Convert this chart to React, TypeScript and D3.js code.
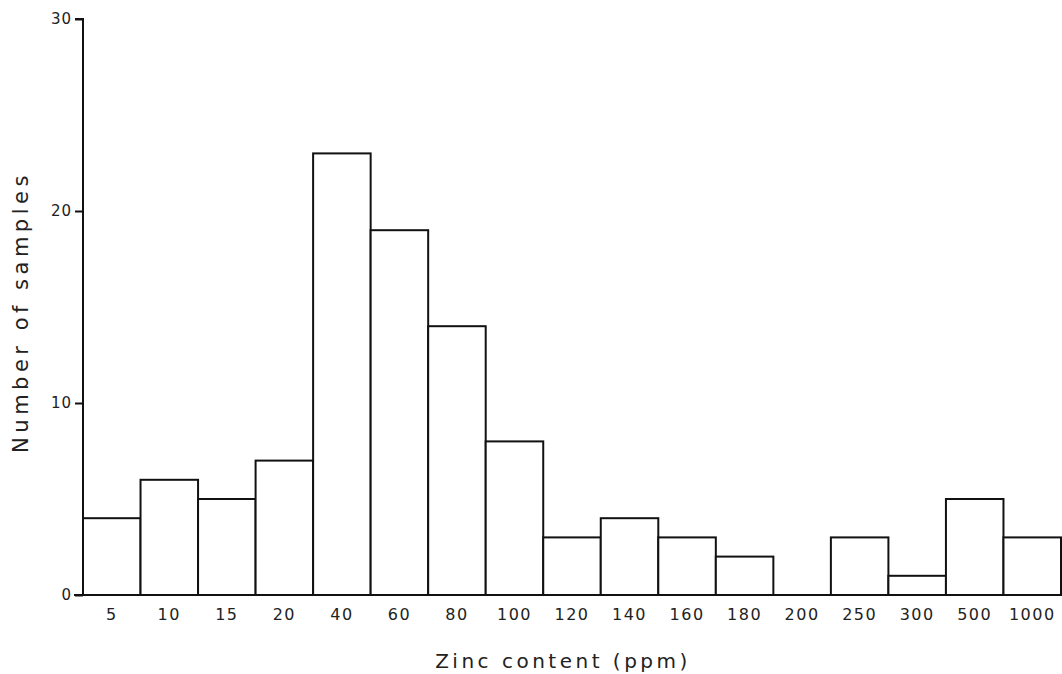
import { useEffect, useRef } from "react";
import * as d3 from "d3";

const categories = ["5", "10", "15", "20", "40", "60", "80", "100", "120", "140", "160", "180", "200", "250", "300", "500", "1000"];
const counts = [4, 6, 5, 7, 23, 19, 14, 8, 3, 4, 3, 2, 0, 3, 1, 5, 3];
const yTicks = [0, 10, 20, 30];

const W = 1062;
const H = 674;
const FONT = "'DejaVu Sans', sans-serif";

export default function App() {
  const ref = useRef<SVGSVGElement>(null);

  useEffect(() => {
    const svg = d3.select(ref.current);
    svg.selectAll("*").remove();

    const x = d3.scaleBand().domain(categories).range([83, 1061]).padding(0);
    const y = d3.scaleLinear().domain([0, 30]).range([595, 19]);

    const g = svg.append("g");

    // bars
    g.selectAll("rect")
      .data(counts)
      .join("rect")
      .attr("x", (_, i) => x(categories[i])!)
      .attr("y", (d) => y(d))
      .attr("width", x.bandwidth())
      .attr("height", (d) => y(0) - y(d))
      .attr("fill", "white")
      .attr("stroke", "#111")
      .attr("stroke-width", 2);

    // baseline
    g.append("line")
      .attr("x1", 74).attr("x2", 1061)
      .attr("y1", y(0)).attr("y2", y(0))
      .attr("stroke", "#111").attr("stroke-width", 2);

    // y axis
    const yAxis = d3.axisLeft(y).tickValues(yTicks).tickSize(8).tickPadding(3);
    const ya = g.append("g").attr("transform", "translate(83,0)").call(yAxis);
    ya.select(".domain").attr("stroke", "#111").attr("stroke-width", 2).attr("d", `M-8,${y(30)}H0V${y(0)}`);
    ya.selectAll(".tick line").attr("stroke", "#111").attr("stroke-width", 2);
    ya.selectAll(".tick text").attr("font-family", FONT).attr("font-size", 15)
      .attr("letter-spacing", 1).attr("fill", "#222");

    // x labels
    const xAxis = d3.axisBottom(x).tickSize(0).tickPadding(14);
    const xa = g.append("g").attr("transform", `translate(0,${y(0)})`).call(xAxis);
    xa.select(".domain").remove();
    xa.selectAll(".tick text").attr("font-family", FONT).attr("font-size", 16)
      .attr("letter-spacing", 1.5).attr("fill", "#222");

    // titles
    svg.append("text")
      .attr("x", 563).attr("y", 668)
      .attr("text-anchor", "middle")
      .attr("font-family", FONT).attr("font-size", 20)
      .attr("letter-spacing", 3.5)
      .attr("fill", "#222")
      .text("Zinc content (ppm)");

    svg.append("text")
      .attr("transform", "translate(28,312) rotate(-90)")
      .attr("text-anchor", "middle")
      .attr("font-family", FONT).attr("font-size", 21)
      .attr("letter-spacing", 4.5)
      .attr("fill", "#222")
      .text("Number of samples");
  }, []);

  return (
    <svg
      ref={ref}
      width={W}
      height={H}
      style={{ position: "absolute", left: 0, top: 0, background: "white" }}
    />
  );
}
